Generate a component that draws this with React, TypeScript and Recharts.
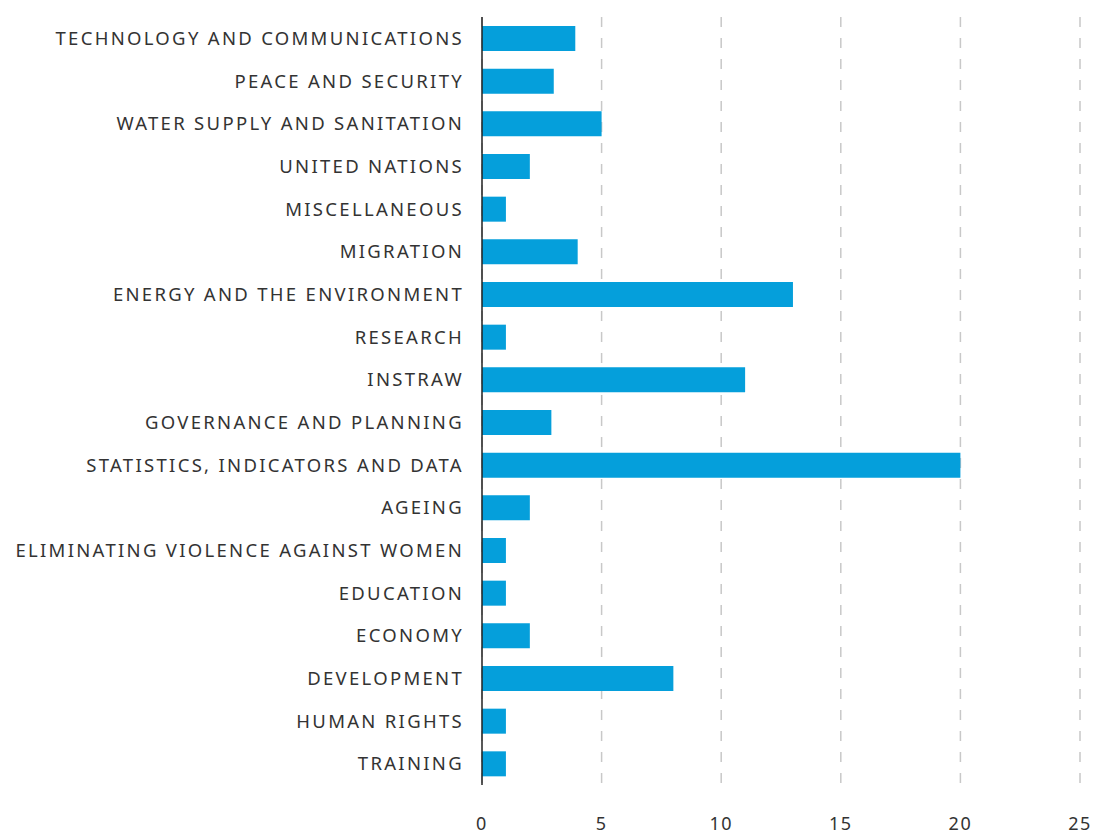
import { BarChart, Bar, XAxis, YAxis, CartesianGrid } from "recharts";

const categories = [
  "TECHNOLOGY AND COMMUNICATIONS",
  "PEACE AND SECURITY",
  "WATER SUPPLY AND SANITATION",
  "UNITED NATIONS",
  "MISCELLANEOUS",
  "MIGRATION",
  "ENERGY AND THE ENVIRONMENT",
  "RESEARCH",
  "INSTRAW",
  "GOVERNANCE AND PLANNING",
  "STATISTICS, INDICATORS AND DATA",
  "AGEING",
  "ELIMINATING VIOLENCE AGAINST WOMEN",
  "EDUCATION",
  "ECONOMY",
  "DEVELOPMENT",
  "HUMAN RIGHTS",
  "TRAINING",
];

const counts = [3.9, 3, 5, 2, 1, 4, 13, 1, 11, 2.9, 20, 2, 1, 1, 2, 8, 1, 1];

const xTicks = [0, 5, 10, 15, 20, 25];

const data = categories.map((name, i) => ({ name, value: counts[i] }));

const FONT = "'Noto Sans', sans-serif";
const TEXT = "#333333";

export default function App() {
  return (
    <div style={{ position: "absolute", left: 0, top: 0, width: 1098, height: 834, background: "#fff" }}>
      <BarChart
        width={1098}
        height={834}
        data={data}
        layout="vertical"
        margin={{ top: 17, right: 18, bottom: 0, left: 0 }}
        barCategoryGap="42%"
      >
        <CartesianGrid
          horizontal={false}
          stroke="#c8c8c8"
          strokeWidth={1.5}
          strokeDasharray="10 11"
        />
        <XAxis
          type="number"
          domain={[0, 25]}
          ticks={xTicks}
          height={49}
          axisLine={false}
          tickLine={false}
          tickSize={0}
          tickMargin={32}
          tick={{ fontSize: 18, fill: TEXT, fontFamily: FONT, letterSpacing: 1.5 }}
        />
        <YAxis
          type="category"
          dataKey="name"
          width={482}
          axisLine={{ stroke: "#222", strokeWidth: 1.5 }}
          tickLine={false}
          tickSize={0}
          tickMargin={18}
          interval={0}
          tick={{ fontSize: 18.5, fill: TEXT, fontFamily: FONT, letterSpacing: 2.3 }}
        />
        <Bar dataKey="value" fill="#059fdb" barSize={25} isAnimationActive={false} />
      </BarChart>
    </div>
  );
}
